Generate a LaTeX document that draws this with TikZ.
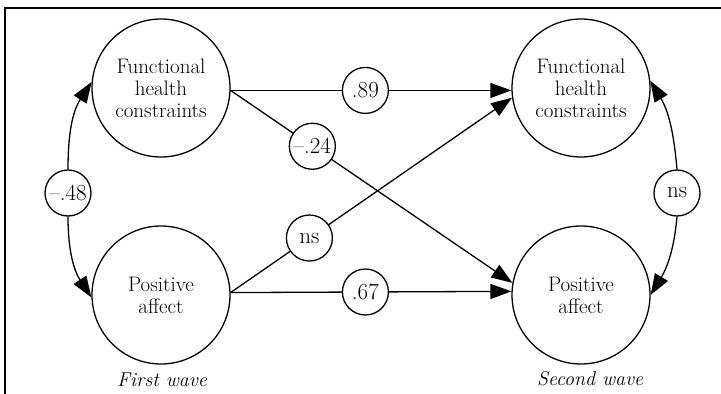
\documentclass[tikz,border=0pt]{standalone}
\usepackage{fontspec}
\usetikzlibrary{arrows.meta}
\begin{document}
\begin{tikzpicture}[x=1pt,y=-1pt,
  every node/.style={font=\fontsize{21}{22}\selectfont},
  bigvar/.style={circle,draw,line width=1.3pt,minimum size=138pt,inner sep=0pt,align=center},
  coef/.style={circle,draw,fill=white,line width=1.3pt,minimum size=46pt,inner sep=0pt,
    font=\fontsize{23}{24}\selectfont},
  effect/.style={line width=1.3pt,-{Triangle[length=21pt,width=15pt]}},
  wave/.style={font=\fontsize{20}{22}\selectfont\itshape}]
\useasboundingbox (0,0) rectangle (721,394);
% box edges
\draw[line width=1.8pt] (5,394) -- (5,8) -- (721,8);

% latent variables, two waves
\node[bigvar] (fhc1) at (161,88) {Functional\\health\\constraints};
\node[bigvar] (pa1) at (161,295) {Positive\\affect};
\node[bigvar] (fhc2) at (581,88) {Functional\\health\\constraints};
\node[bigvar] (pa2) at (581,295) {Positive\\affect};

% within-wave correlations
\node[coef] (c48) at (68,193) {--.48};
\node[coef] (cns2) at (677,193) {ns};
\draw[effect] (c48.north) to[out=90,in=237] (fhc1.175);
\draw[effect] (c48.south) to[out=-90,in=123] (pa1.182);
\draw[effect] (cns2.north) to[out=95,in=301] (fhc2.6);
\draw[effect] (cns2.south) to[out=-95,in=59] (pa2.0);

% cross-lagged paths
\draw[effect] (fhc1.-2.5) -- node[coef,pos=0.48] (c89) {.89} (fhc2.182.5);
\draw[effect] (fhc1.-2.5) -- node[coef,pos=0.29] (c24) {--.24} (pa2.170);
\draw[effect] (pa1.2.5) -- node[coef,pos=0.28] (cns1) {ns} (fhc2.188);
\draw[effect] (pa1.2.5) -- node[coef,pos=0.48] (c67) {.67} (pa2.177.5);

% wave captions
\node[wave] (w1) at (162,380) {First wave};
\node[wave] (w2) at (590,379) {Second wave};
\end{tikzpicture}
\end{document}
